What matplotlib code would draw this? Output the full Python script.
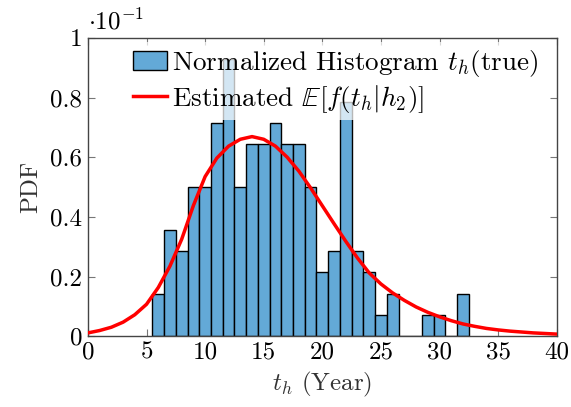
import numpy as np
import matplotlib
matplotlib.use("Agg")
import matplotlib.pyplot as plt

# ---- data ----
bin_centers = [6, 7, 8, 9, 10, 11, 12, 13, 14, 15, 16, 17, 18, 19, 20,
               21, 22, 23, 24, 25, 26, 27, 28, 29, 30, 31, 32]
counts = [2, 5, 4, 7, 7, 10, 13, 7, 9, 9, 10, 9, 9, 7, 3,
          4, 11, 4, 3, 1, 2, 0, 0, 1, 1, 0, 2]
bin_width = 1.0

curve_x = list(range(0, 41))
curve_y = [0.011, 0.019, 0.030, 0.047, 0.072, 0.107, 0.163, 0.235, 0.325, 0.438,
           0.535, 0.597, 0.637, 0.660, 0.669, 0.660, 0.637, 0.600, 0.553, 0.497,
           0.437, 0.377, 0.318, 0.262, 0.212, 0.175, 0.145, 0.120, 0.098, 0.080,
           0.065, 0.052, 0.041, 0.033, 0.026, 0.021, 0.017, 0.014, 0.011, 0.009,
           0.007]

x_ticks = [0, 5, 10, 15, 20, 25, 30, 35, 40]
y_ticks = [0, 0.2, 0.4, 0.6, 0.8, 1]
y_tick_labels = ["0", "0.2", "0.4", "0.6", "0.8", "1"]

# ---- style ----
plt.rcParams['font.family'] = 'serif'
plt.rcParams['font.serif'] = ['cmr10']
plt.rcParams['mathtext.fontset'] = 'cm'
plt.rcParams['axes.unicode_minus'] = False
plt.rcParams['axes.formatter.use_mathtext'] = True

FS = 18
LFS = 19.5

fig = plt.figure(figsize=(5.71, 4.07), dpi=100)
ax = fig.add_axes([0.154, 0.174, 0.821, 0.733])

# heights in units of 1e-1 (density = counts / N / width)
total = sum(counts)
heights = [c / total / bin_width * 10 for c in counts]

bars = ax.bar(bin_centers, heights, width=bin_width, color='#63a9d7',
              edgecolor='black', linewidth=1.0,
              label=r'Normalized Histogram $t_h$(true)', zorder=2)
line, = ax.plot(curve_x, curve_y, color='red', lw=2.5,
                label=r'Estimated $\mathbb{E}[f(t_h|h_2)]$', zorder=3)

ax.set_xlim(0, 40)
ax.set_ylim(0, 1)
ax.set_xticks(x_ticks)
ax.set_xticklabels([str(t) for t in x_ticks])
ax.set_yticks(y_ticks)
ax.set_yticklabels(y_tick_labels)
ax.tick_params(direction='in', top=True, right=True, labelsize=FS,
               color='#777777', length=5, width=0.8, pad=4)
for s in ax.spines.values():
    s.set_color('#444444')
    s.set_linewidth(1.0)

ax.set_xlabel(r'$t_h$ (Year)', fontsize=FS, color='#333333', labelpad=4)
ax.set_ylabel('PDF', fontsize=FS, color='#333333', labelpad=6)

ax.text(0.0, 1.01, r'$\cdot 10^{-1}$', transform=ax.transAxes,
        fontsize=FS, ha='left', va='bottom')

leg = ax.legend(handles=[bars, line], loc='upper left', fontsize=LFS,
                frameon=True, framealpha=0.72,
                edgecolor='none', facecolor='white', handlelength=1.26,
                handletextpad=0.2, borderaxespad=0.0, labelspacing=0.15,
                borderpad=0.2, bbox_to_anchor=(0.084, 0.985))
leg.set_zorder(4)

fig.savefig('out.png', dpi=100)
